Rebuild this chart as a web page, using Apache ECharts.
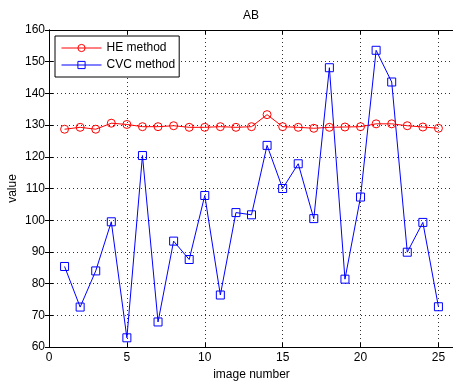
<!DOCTYPE html>
<html>
<head>
<meta charset="utf-8">
<script src="https://cdn.jsdelivr.net/npm/echarts@6/dist/echarts.min.js"></script>
<style>html,body{margin:0;padding:0;background:#fff;}#c{width:453px;height:383px;}</style>
</head>
<body>
<div id="c"></div>
<script>
const imageNumbers = [1,2,3,4,5,6,7,8,9,10,11,12,13,14,15,16,17,18,19,20,21,22,23,24,25];
const heValues = [128.7,129.3,128.7,130.6,130.2,129.5,129.5,129.8,129.3,129.3,129.5,129.3,129.5,133.3,129.5,129.3,129.0,129.3,129.4,129.5,130.4,130.4,129.8,129.4,129.0];
const cvcValues = [85.4,72.6,84.0,99.5,62.9,120.4,67.9,93.4,87.6,107.8,76.4,102.4,101.7,123.6,110.0,117.8,100.5,148.1,81.4,107.3,153.6,143.6,89.9,99.3,72.7];
const xTicksShown = [0,5,10,15,20,25];
const yTickLabels = [60,70,80,90,100,110,120,130,140,150,160];

const font = 'Liberation Sans, Arial, sans-serif';
const chart = echarts.init(document.getElementById('c'));
const pair = (xs, ys) => xs.map((x, i) => [x, ys[i]]);
const gridLine = {show: true, lineStyle: {color: '#333', type: [1, 3], width: 1}};
chart.setOption({
  animation: false,
  backgroundColor: '#fff',
  title: {text: 'AB', left: 238, top: 5,
    textStyle: {fontFamily: font, fontSize: 12, fontWeight: 'normal', color: '#000'}},
  grid: {left: 49, top: 30, width: 405, height: 317, show: false, containLabel: false, outerBoundsMode: 'none'},
  legend: {
    orient: 'vertical', left: 55, top: 36,
    backgroundColor: '#fff', borderColor: '#000', borderWidth: 1,
    padding: [6, 4, 6, 6], itemWidth: 40, itemHeight: 9, itemGap: 5,
    textStyle: {fontFamily: font, fontSize: 12, color: '#000'},
    lineStyle: {width: 1},
    itemStyle: {borderWidth: 1},
    data: ['HE method', 'CVC method']
  },
  xAxis: [{
    type: 'value', min: 0, max: 26, interval: 5,
    name: 'image number', nameLocation: 'middle', nameGap: 22, nameMoveOverlap: false,
    nameTextStyle: {fontFamily: font, fontSize: 12, color: '#000'},
    axisLine: {show: true, lineStyle: {color: '#000', width: 1}},
    axisTick: {show: true, inside: true, length: 4, lineStyle: {color: '#000'}},
    axisLabel: {fontFamily: font, fontSize: 12, color: '#000', margin: 5,
      formatter: v => xTicksShown.includes(v) ? String(v) : ''},
    splitLine: gridLine
  }, {
    type: 'value', min: 0, max: 26, interval: 5, position: 'top',
    axisLine: {show: true, lineStyle: {color: '#000', width: 1}},
    axisTick: {show: true, inside: true, length: 4, lineStyle: {color: '#000'}},
    axisLabel: {show: false}, splitLine: {show: false}
  }],
  yAxis: [{
    type: 'value', min: 60, max: 160, interval: 10,
    name: 'value', nameLocation: 'middle', nameGap: 30, nameRotate: 90, nameMoveOverlap: false,
    nameTextStyle: {fontFamily: font, fontSize: 12, color: '#000'},
    axisLine: {show: true, lineStyle: {color: '#000', width: 1}},
    axisTick: {show: true, inside: true, length: 4, lineStyle: {color: '#000'}},
    axisLabel: {fontFamily: font, fontSize: 12, color: '#000', margin: 4,
      formatter: v => yTickLabels.includes(v) ? String(v) : ''},
    splitLine: gridLine
  }, {
    type: 'value', min: 60, max: 160, interval: 10, position: 'right',
    axisLine: {show: true, lineStyle: {color: '#000', width: 1}},
    axisTick: {show: true, inside: true, length: 4, lineStyle: {color: '#000'}},
    axisLabel: {show: false}, splitLine: {show: false}
  }],
  series: [{
    name: 'HE method', type: 'line', xAxisIndex: 0, yAxisIndex: 0,
    data: pair(imageNumbers, heValues),
    symbol: 'circle', symbolSize: 8, showAllSymbol: true,
    lineStyle: {color: '#ff0000', width: 1},
    itemStyle: {color: 'rgba(255,255,255,0)', borderColor: '#ff0000', borderWidth: 1}
  }, {
    name: 'CVC method', type: 'line', xAxisIndex: 0, yAxisIndex: 0,
    data: pair(imageNumbers, cvcValues),
    symbol: 'rect', symbolSize: 8, showAllSymbol: true,
    lineStyle: {color: '#0000ff', width: 1},
    itemStyle: {color: 'rgba(255,255,255,0)', borderColor: '#0000ff', borderWidth: 1}
  }]
});
</script>
</body>
</html>
